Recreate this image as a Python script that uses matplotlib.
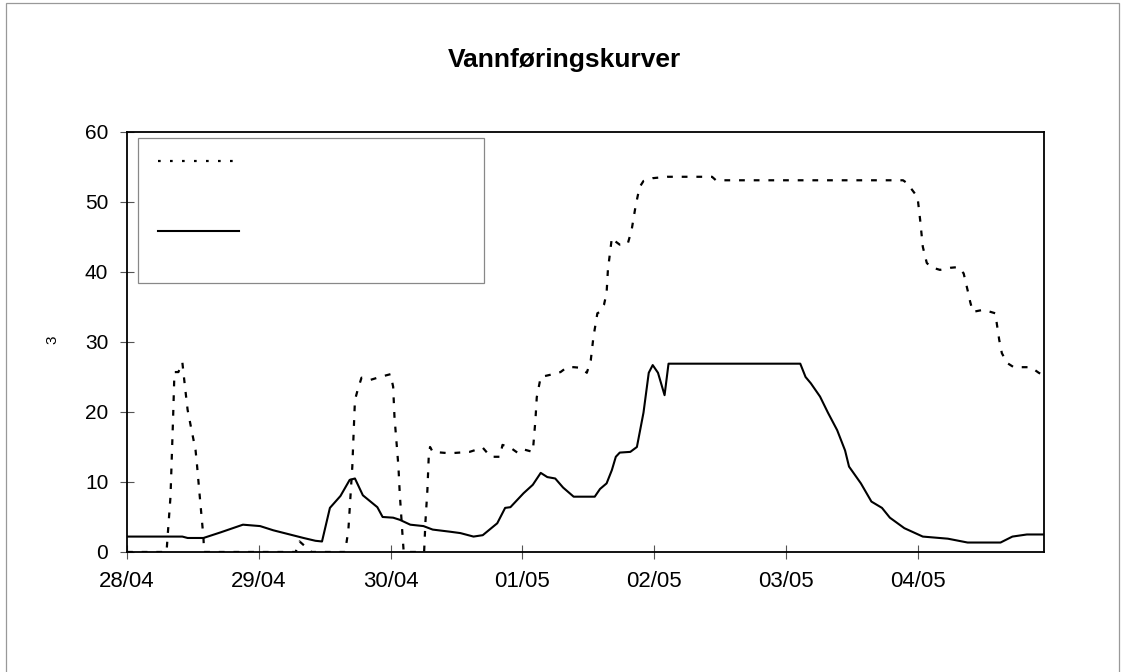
import matplotlib
matplotlib.use("Agg")
import matplotlib.pyplot as plt
from matplotlib.patches import Rectangle
from matplotlib.lines import Line2D

plt.rcParams['font.family'] = ['Liberation Sans', 'DejaVu Sans']

# time in days from 28/04 00:00
DAY_LABELS = ["28/04", "29/04", "30/04", "01/05", "02/05", "03/05", "04/05"]

# dotted curve
t_dot = [0.00, 0.30, 0.31, 0.33, 0.35, 0.36, 0.39, 0.42, 0.44, 0.46, 0.49, 0.52, 0.53, 0.55,
         0.58, 0.585, 1.28, 1.31, 1.40, 1.655, 1.68, 1.71, 1.72, 1.73, 1.75, 1.78, 1.85,
         1.92, 2.00, 2.02, 2.03, 2.05, 2.06, 2.07, 2.09, 2.10, 2.255, 2.265, 2.28, 2.29,
         2.30, 2.32, 2.45, 2.60, 2.70, 2.76, 2.83, 2.85, 2.91, 2.97, 3.02, 3.08, 3.10, 3.11,
         3.14, 3.21, 3.29, 3.34, 3.39, 3.45, 3.49, 3.52, 3.54, 3.57, 3.59, 3.62, 3.64, 3.65,
         3.68, 3.69, 3.74, 3.80, 3.83, 3.86, 3.89, 3.92, 3.99, 4.10, 4.44, 4.47, 5.77, 5.89,
         5.92, 5.96, 6.00, 6.02, 6.04, 6.07, 6.10, 6.17, 6.25, 6.31, 6.35, 6.38, 6.40, 6.42,
         6.50, 6.59, 6.62, 6.64, 6.68, 6.73, 6.86, 6.92, 6.96]
q_dot = [0, 0, 2.7, 7.9, 19.3, 25.7, 25.7, 27.1, 23.6, 20.3, 17.4, 14.6, 12.7, 8.4,
         2.1, 0, 0, 1.5, 0, 0, 3.1, 12.2, 17.0, 21.7, 23.1, 24.9, 24.6,
         25.0, 25.4, 23.6, 19.3, 14.6, 12.2, 8.4, 2.7, 0, 0, 4.3, 8.9, 13.6,
         15.0, 14.3, 14.1, 14.3, 14.9, 13.6, 13.6, 15.3, 14.9, 14.1, 14.6, 14.3, 18.9, 22.1,
         25.0, 25.3, 25.7, 26.4, 26.4, 26.3, 25.6, 27.4, 30.7, 34.1, 34.3, 35.3, 37.0, 40.3,
         44.9, 44.6, 43.9, 44.0, 46.0, 49.4, 52.1, 53.0, 53.4, 53.6, 53.6, 53.1, 53.1, 53.1,
         52.7, 51.7, 50.7, 47.4, 43.6, 41.3, 40.7, 40.3, 40.6, 40.7, 39.8, 37.4, 35.7, 34.3,
         34.6, 34.1, 30.3, 28.4, 27.0, 26.4, 26.4, 25.6, 25.2]

# solid curve
t_sol = [0.00, 0.42, 0.46, 0.58, 0.71, 0.88, 1.01, 1.11, 1.34, 1.43, 1.48, 1.54, 1.62,
         1.69, 1.73, 1.79, 1.90, 1.94, 2.02, 2.07, 2.15, 2.25, 2.32, 2.45, 2.53, 2.63,
         2.70, 2.81, 2.87, 2.91, 3.01, 3.08, 3.14, 3.19, 3.25, 3.31, 3.39, 3.55, 3.59,
         3.64, 3.68, 3.71, 3.74, 3.82, 3.87, 3.92, 3.96, 3.99, 4.03, 4.08, 4.11, 5.11,
         5.15, 5.19, 5.26, 5.32, 5.39, 5.45, 5.48, 5.57, 5.65, 5.73, 5.79, 5.90, 6.04,
         6.23, 6.38, 6.63, 6.72, 6.83, 6.96]
q_sol = [2.2, 2.2, 2.0, 2.0, 2.8, 3.9, 3.7, 3.1, 2.0, 1.6, 1.5, 6.3, 8.0,
         10.3, 10.5, 8.1, 6.4, 5.0, 4.9, 4.6, 3.9, 3.7, 3.2, 2.9, 2.7, 2.2,
         2.4, 4.1, 6.3, 6.4, 8.4, 9.6, 11.3, 10.7, 10.5, 9.2, 7.9, 7.9, 9.0,
         9.8, 11.7, 13.6, 14.2, 14.3, 15.0, 19.9, 25.6, 26.7, 25.6, 22.4, 26.9, 26.9,
         25.0, 24.1, 22.2, 19.9, 17.4, 14.5, 12.2, 9.8, 7.2, 6.3, 4.9, 3.4, 2.2,
         1.9, 1.35, 1.35, 2.2, 2.5, 2.5]

fig = plt.figure(figsize=(11.22, 6.72), dpi=100)
ax = fig.add_axes([0.1132, 0.1786, 0.8173, 0.625])

ax.plot(t_dot, q_dot, color='black', lw=1.6, linestyle=(0, (2.6, 4.0)))
ax.plot(t_sol, q_sol, color='black', lw=1.5)

ax.set_xlim(0, 6.96)
ax.set_ylim(0, 60)
ax.set_xticks(range(len(DAY_LABELS)))
ax.set_xticklabels(DAY_LABELS)
ax.set_yticks(range(0, 61, 10))
ax.tick_params(axis='x', direction='inout', length=10, width=0.8, color='#555555',
               pad=8.5, labelsize=16)
ax.tick_params(axis='y', direction='inout', length=10, width=0.8, color='#555555',
               pad=8.5, labelsize=15)
for s in ax.spines.values():
    s.set_linewidth(1.3)
    s.set_color('black')

# legend box (labels are blank in the original)
ax.add_patch(Rectangle((0.012, 0.640), 0.377, 0.3457, transform=ax.transAxes,
                       facecolor='white', edgecolor='#888888', lw=0.9, zorder=3))
ax.add_line(Line2D([0.0338, 0.1178], [0.931, 0.931], transform=ax.transAxes,
                   color='black', lw=1.6, linestyle=(0, (1.2, 4.2)), zorder=4))
ax.add_line(Line2D([0.0338, 0.1221], [0.764, 0.764], transform=ax.transAxes,
                   color='black', lw=1.5, zorder=4))

fig.text(0.503, 0.910, "Vannføringskurver", ha='center', va='center',
         fontsize=19, fontweight='bold')
fig.text(0.047, 0.494, "3", ha='center', va='center', rotation=90, fontsize=11)

# outer frame
fig.add_artist(Rectangle((0.0053, -0.1), 0.992, 1.0955, transform=fig.transFigure,
                         facecolor='none', edgecolor='#999999', lw=0.9))

fig.savefig("out.png", dpi=100)
